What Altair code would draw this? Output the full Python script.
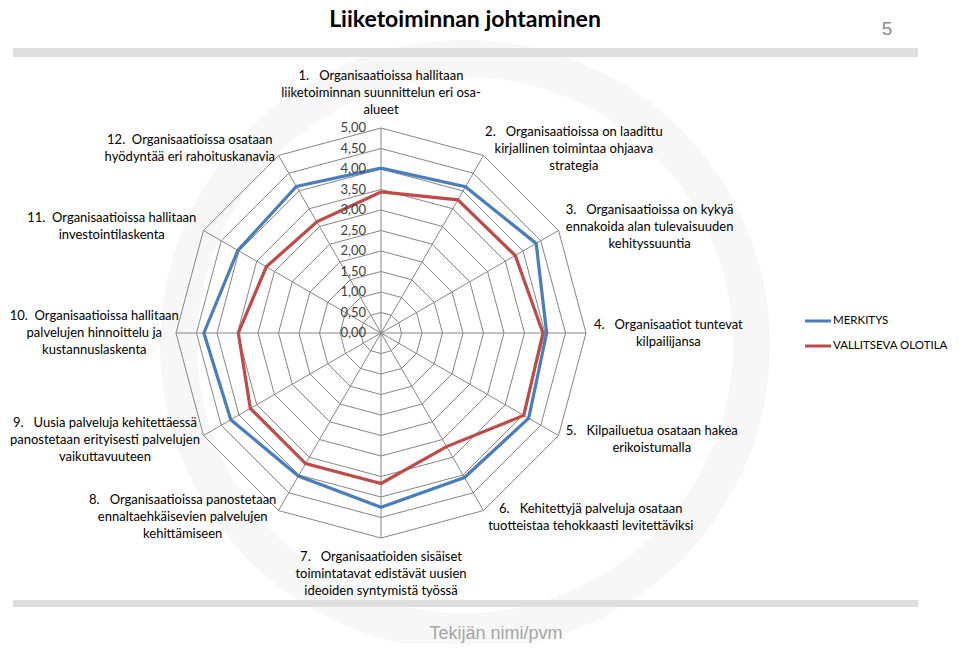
import math
import altair as alt
import pandas as pd

# ---------------- data ----------------
categories = [
    "1.\u00a0\u00a0\u00a0Organisaatioissa hallitaan\nliiketoiminnan suunnittelun eri osa-\nalueet",
    "2.\u00a0\u00a0\u00a0Organisaatioissa on laadittu\nkirjallinen toimintaa ohjaava\nstrategia",
    "3.\u00a0\u00a0\u00a0Organisaatioissa on kykyä\nennakoida alan tulevaisuuden\nkehityssuuntia",
    "4.\u00a0\u00a0\u00a0Organisaatiot tuntevat\nkilpailijansa",
    "5.\u00a0\u00a0\u00a0Kilpailuetua osataan hakea\nerikoistumalla",
    "6.\u00a0\u00a0\u00a0Kehitettyjä palveluja osataan\ntuotteistaa tehokkaasti levitettäviksi",
    "7.\u00a0\u00a0\u00a0Organisaatioiden sisäiset\ntoimintatavat edistävät uusien\nideoiden syntymistä työssä",
    "8.\u00a0\u00a0\u00a0Organisaatioissa panostetaan\nennaltaehkäisevien palvelujen\nkehittämiseen",
    "9.\u00a0\u00a0\u00a0Uusia palveluja kehitettäessä\npanostetaan erityisesti palvelujen\nvaikuttavuuteen",
    "10.\u00a0\u00a0Organisaatioissa hallitaan\npalvelujen hinnoittelu ja\nkustannuslaskenta",
    "11.\u00a0\u00a0Organisaatioissa hallitaan\ninvestointilaskenta",
    "12.\u00a0\u00a0Organisaatioissa osataan\nhyödyntää eri rahoituskanavia",
]
merkitys = [4.02, 4.12, 4.37, 4.04, 4.16, 4.07, 4.25, 4.03, 4.23, 4.32, 4.03, 4.13]
olotila = [3.44, 3.75, 3.78, 3.95, 4.02, 3.20, 3.67, 3.68, 3.68, 3.48, 3.23, 3.13]
series_names = ["MERKITYS", "VALLITSEVA OLOTILA"]
tick_values = [0.0, 0.5, 1.0, 1.5, 2.0, 2.5, 3.0, 3.5, 4.0, 4.5, 5.0]
tick_labels = ["0,00", "0,50", "1,00", "1,50", "2,00", "2,50", "3,00", "3,50", "4,00", "4,50", "5,00"]
title_text = "Liiketoiminnan johtaminen"
page_number = "5"
footer_text = "Tekijän nimi/pvm"

# ---------------- styling / layout ----------------
series_colors = ["#4a7ebb", "#be4b48"]
GRID = "#868686"
FONT = "Lato"
FS = 13.0
W, H = 943, 636
R_PX = 205.0
CX, CY = 373.0, 325.0
u = tick_values[-1] / R_PX
n = len(categories)
rmax = tick_values[-1]

xs = alt.Scale(domain=[-CX * u, (W - CX) * u], nice=False, zero=False)
ys = alt.Scale(domain=[-(H - CY) * u, CY * u], nice=False, zero=False)
ANG = "datum.k * 2 * PI / %d" % n

# series polygons
srows = []
for s, vals in zip(series_names, [merkitys, olotila]):
    for i in range(n + 1):
        srows.append({"series": s, "idx": i, "k": i % n, "value": vals[i % n]})
series_df = pd.DataFrame(srows)

# grid rings
rrows = []
for t in tick_values[1:]:
    for i in range(n + 1):
        rrows.append({"level": t, "idx": i, "k": i % n})
ring_df = pd.DataFrame(rrows)

spoke_df = pd.DataFrame({"k": list(range(n))})
tick_df = pd.DataFrame({"value": tick_values, "label": tick_labels})

# rough text width estimate (em units) used only to place the label boxes
_EM = {}
for ch in "iljı.,:;'|!": _EM[ch] = 0.23
for ch in "tfr": _EM[ch] = 0.35
for ch in "mw": _EM[ch] = 0.78
for ch in "sczx": _EM[ch] = 0.43
for ch in " \u00a0": _EM[ch] = 0.2
for ch in "0123456789": _EM[ch] = 0.58
def text_w(s):
    tot = 0.0
    for ch in s:
        if ch in _EM:
            tot += _EM[ch]
        elif ch.isupper():
            tot += 0.64
        else:
            tot += 0.52
    return tot * FS * 1.03

LH = 17.0
lrows = []
for k, lab in enumerate(categories):
    th = 2 * math.pi * k / n
    s, c = math.sin(th), math.cos(th)
    ex, ey = R_PX * s, -R_PX * c
    lines_ = lab.split("\n")
    nl = len(lines_)
    w = max(text_w(l) for l in lines_)
    if abs(s) < 1e-6:
        cx = 0.0
        cy = ey + (-1 if c > 0 else 1) * (10 + nl * LH / 2)
    else:
        gap = 12 * abs(s) - 3
        cx = ex + (1 if s > 0 else -1) * (gap + w / 2)
        cy = ey - 8 * c
    # keep the whole box inside the drawing area
    cx = max(cx, -CX + 2 + w / 2)
    first = cy - (nl - 1) * LH / 2
    lrows.append({"label": lab, "lx": cx * u, "ly": -first * u})
label_df = pd.DataFrame(lrows)

base_xy = dict(
    x=alt.X("px:Q", scale=xs, axis=None),
    y=alt.Y("py:Q", scale=ys, axis=None),
)

watermark = alt.Chart(pd.DataFrame({"a": [0]})).mark_arc(
    theta=0, theta2=2 * math.pi, radius=268, radius2=305, color="#f7f7f7"
).encode(x=alt.value(CX + 84), y=alt.value(CY + 12))

bars = alt.Chart(pd.DataFrame({"y0": [40, 592], "y1": [49, 599]})).mark_rect(
    color="#dedede"
).encode(
    x=alt.value(5), x2=alt.value(910),
    y=alt.Y("y0:Q", scale=None), y2="y1:Q",
)

rings = alt.Chart(ring_df).transform_calculate(
    ang=ANG, px="datum.level * sin(datum.ang)", py="datum.level * cos(datum.ang)"
).mark_line(color=GRID, strokeWidth=1).encode(
    detail="level:N", order="idx:Q", **base_xy
)

spokes = alt.Chart(spoke_df).transform_calculate(
    ang=ANG, px="0", py="0",
    px2="%f * sin(datum.ang)" % rmax, py2="%f * cos(datum.ang)" % rmax,
).mark_rule(color=GRID, strokeWidth=1).encode(
    x2="px2:Q", y2="py2:Q", **base_xy
)

lines = alt.Chart(series_df).transform_calculate(
    ang=ANG, px="datum.value * sin(datum.ang)", py="datum.value * cos(datum.ang)"
).mark_line(strokeWidth=3.2).encode(
    color=alt.Color("series:N", scale=alt.Scale(domain=series_names, range=series_colors), legend=None),
    order="idx:Q", **base_xy
)

ticks = alt.Chart(tick_df).transform_calculate(px="0", py="datum.value").mark_text(
    align="right", baseline="middle", dx=-15, font=FONT, fontSize=13, color="#404040"
).encode(text="label:N", **base_xy)

cat_labels = alt.Chart(label_df).mark_text(
    align="center", baseline="middle", lineBreak="\n", lineHeight=LH,
    font=FONT, fontSize=FS, color="#000000"
).encode(
    x=alt.X("lx:Q", scale=xs, axis=None),
    y=alt.Y("ly:Q", scale=ys, axis=None),
    text="label:N",
)

leg_df = pd.DataFrame({"series": series_names, "i": [0, 1]})
leg_lines = alt.Chart(leg_df).transform_calculate(
    lx="797", lx2="823", ly="313 + datum.i * 25"
).mark_rule(strokeWidth=3).encode(
    x=alt.X("lx:Q", scale=None), x2="lx2:Q", y=alt.Y("ly:Q", scale=None),
    color=alt.Color("series:N", scale=alt.Scale(domain=series_names, range=series_colors), legend=None),
)
leg_text = alt.Chart(leg_df).transform_calculate(
    lx="825", ly="313 + datum.i * 25"
).mark_text(align="left", baseline="middle", font=FONT, fontSize=11.5, color="#000000").encode(
    x=alt.X("lx:Q", scale=None), y=alt.Y("ly:Q", scale=None), text="series:N"
)

title = alt.Chart(pd.DataFrame({"t": [title_text]})).mark_text(
    align="center", baseline="alphabetic", font=FONT, fontSize=23, fontWeight="bold", color="#000000"
).encode(x=alt.value(457), y=alt.value(19), text="t:N")

pnum = alt.Chart(pd.DataFrame({"t": [page_number]})).mark_text(
    align="center", baseline="alphabetic", font="Liberation Sans", fontSize=19, color="#8c8c8c"
).encode(x=alt.value(879), y=alt.value(27), text="t:N")

footer = alt.Chart(pd.DataFrame({"t": [footer_text]})).mark_text(
    align="center", baseline="alphabetic", font="Liberation Sans", fontSize=18, color="#a6a6a6"
).encode(x=alt.value(488), y=alt.value(631), text="t:N")

chart = alt.layer(
    watermark, bars, rings, spokes, lines, ticks, cat_labels, leg_lines, leg_text, title, pnum, footer
).properties(
    width=W, height=H, padding=0, autosize="none", background="white"
).configure_view(stroke=None)

chart.save("out.html", embed_options={"renderer": "svg", "actions": False})
